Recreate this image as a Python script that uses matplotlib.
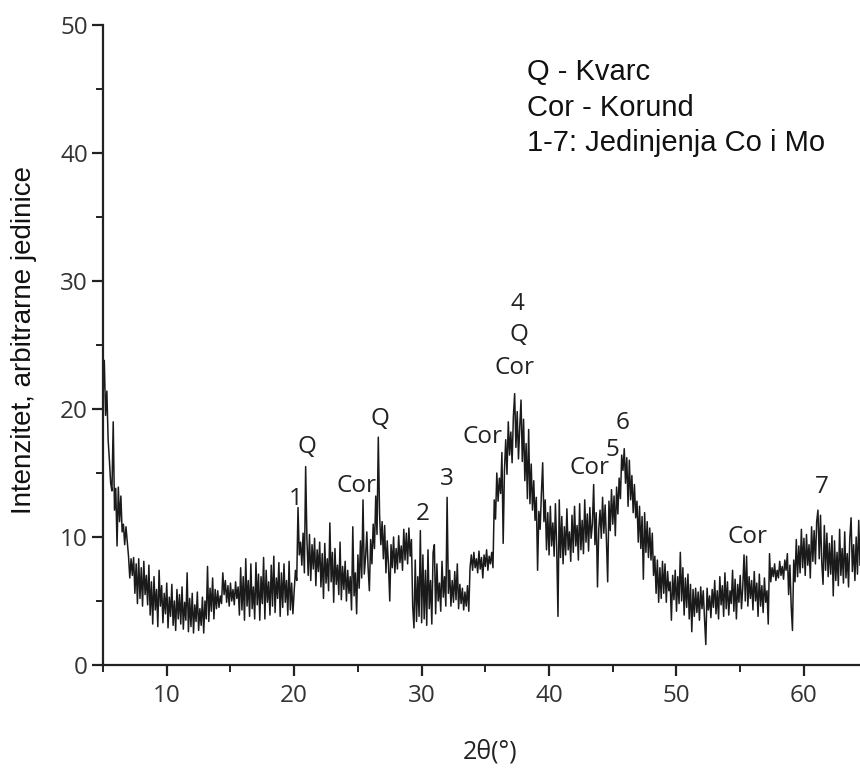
import numpy as np
import matplotlib.pyplot as plt
from matplotlib.ticker import MultipleLocator

# 2theta scan grid (0.1 deg steps) and intensity
two_theta = np.round(np.arange(5.0, 64.45, 0.1), 1)

intensity = [
    21.0, 23.8, 19.5, 21.4, 17.6, 16.0, 14.2, 13.6, 19.0, 12.1,   # 5
    13.8, 9.3, 13.9, 11.2, 13.2, 10.4, 11.0, 9.4, 10.8, 9.6,      # 6
    8.5, 6.8, 8.3, 7.0, 8.4, 5.6, 7.9, 4.8, 8.3, 5.2,             # 7
    7.6, 4.6, 8.1, 5.5, 7.0, 4.7, 7.8, 3.9, 6.5, 3.2,             # 8
    6.9, 4.3, 5.9, 3.0, 7.4, 4.6, 6.2, 3.3, 5.6, 4.0,             # 9
    6.4, 2.9, 5.3, 3.8, 6.3, 3.1, 5.0, 2.7, 5.9, 3.6,             # 10
    5.5, 3.2, 6.1, 2.8, 4.9, 3.5, 7.2, 2.6, 5.2, 3.0,             # 11
    5.6, 2.5, 4.7, 3.4, 5.7, 2.7, 4.4, 3.1, 5.3, 2.5,             # 12
    5.0, 3.6, 7.7, 3.4, 6.0, 4.2, 6.8, 3.6, 5.9, 4.4,             # 13
    5.8, 4.5, 5.4, 4.8, 7.2, 5.5, 6.6, 4.9, 6.2, 4.6,             # 14
    6.4, 5.0, 5.9, 4.7, 6.5, 5.2, 6.1, 3.9, 7.6, 4.3,             # 15
    6.9, 3.5, 8.3, 4.6, 6.6, 3.8, 7.9, 4.4, 6.1, 3.6,             # 16
    8.0, 4.7, 7.1, 3.5, 6.9, 4.8, 8.4, 3.6, 7.4, 4.9,             # 17
    6.5, 3.9, 7.8, 4.6, 8.5, 4.1, 6.8, 5.2, 8.0, 3.8,             # 18
    7.2, 4.5, 7.9, 4.9, 6.6, 3.9, 8.1, 4.3, 6.4, 4.0,             # 19
    5.8, 7.4, 6.6, 12.3, 8.6, 9.6, 7.8, 10.3, 7.2, 15.5,          # 20
    9.8, 7.0, 10.2, 6.6, 9.4, 7.5, 9.9, 6.2, 9.0, 7.3,            # 21
    9.6, 6.1, 8.7, 5.2, 9.5, 6.4, 8.3, 5.8, 11.1, 6.5,            # 22
    8.8, 4.9, 9.1, 6.3, 7.8, 5.5, 9.6, 5.1, 7.7, 5.9,             # 23
    8.1, 5.0, 7.4, 5.6, 6.9, 4.3, 10.8, 5.4, 7.2, 4.0,            # 24
    8.6, 6.0, 9.7, 6.8, 12.9, 7.1, 8.4, 10.4, 7.6, 5.8,           # 25
    9.8, 7.9, 11.0, 9.1, 13.2, 10.2, 17.8, 11.8, 9.4, 11.2,       # 26
    8.3, 10.9, 7.2, 9.7, 7.8, 5.0, 9.4, 7.6, 10.0, 7.2,           # 27
    9.1, 7.5, 10.1, 8.0, 9.3, 7.4, 10.6, 8.2, 10.3, 7.9,          # 28
    10.7, 8.5, 9.8, 4.6, 2.9, 8.2, 3.4, 6.9, 3.8, 10.5,           # 29
    3.3, 8.6, 3.6, 7.4, 3.1, 9.0, 4.4, 6.6, 3.2, 8.8,             # 30
    9.4, 4.0, 7.9, 5.0, 6.4, 4.2, 8.1, 5.3, 6.9, 4.6,             # 31
    13.1, 5.6, 7.4, 4.6, 6.6, 4.9, 7.3, 5.1, 7.9, 4.4,            # 32
    6.3, 4.8, 6.0, 4.3, 5.7, 4.6, 6.2, 4.2, 7.6, 8.6,             # 33
    7.4, 8.8, 7.6, 8.3, 7.2, 8.9, 7.5, 8.4, 6.8, 8.6,             # 34
    7.7, 9.0, 7.4, 8.5, 7.9, 8.8, 7.6, 12.9, 11.4, 15.0,          # 35
    12.8, 14.6, 13.4, 16.6, 9.5, 15.2, 17.6, 14.9, 19.0, 16.4,    # 36
    18.2, 15.8, 19.4, 21.2, 17.0, 19.8, 16.1, 18.6, 20.7, 15.9,   # 37
    19.2, 14.4, 17.3, 13.0, 18.4, 12.6, 15.7, 12.1, 14.4, 11.3,   # 38
    13.1, 7.4, 12.0, 10.6, 13.4, 15.8, 11.2, 12.9, 9.0, 11.9,     # 39
    8.6, 12.4, 9.3, 11.1, 8.5, 12.6, 9.2, 3.8, 12.9, 8.4,         # 40
    11.6, 7.9, 10.8, 8.6, 12.2, 9.0, 10.4, 8.1, 11.7, 8.8,        # 41
    12.4, 9.3, 10.9, 8.2, 12.6, 9.0, 11.3, 8.7, 12.9, 9.6,        # 42
    11.8, 8.9, 12.3, 9.9, 11.0, 14.1, 9.4, 11.9, 6.1, 10.6,       # 43
    12.1, 9.9, 13.1, 10.3, 12.5, 9.8, 6.5, 12.8, 10.5, 13.7,      # 44
    11.0, 13.2, 10.1, 13.9, 11.8, 14.6, 13.0, 16.4, 15.2, 16.9,   # 45
    14.2, 16.2, 12.4, 16.0, 12.9, 14.8, 11.9, 14.1, 11.5, 12.8,   # 46
    9.6, 12.4, 9.1, 11.6, 6.7, 11.9, 8.8, 11.2, 8.4, 10.7,        # 47
    8.2, 10.3, 7.0, 8.5, 5.6, 8.2, 4.9, 7.6, 5.2, 8.1,            # 48
    5.6, 7.9, 4.9, 7.3, 5.8, 6.5, 3.5, 7.0, 5.1, 7.4,             # 49
    4.2, 6.9, 4.8, 8.8, 5.0, 7.6, 3.9, 6.8, 4.5, 7.1,             # 50
    3.6, 6.3, 2.6, 5.9, 3.8, 6.0, 4.1, 5.7, 3.5, 6.1,             # 51
    4.4, 5.8, 3.6, 1.6, 6.0, 4.3, 5.4, 3.7, 5.9, 4.5,             # 52
    6.6, 4.0, 5.8, 3.6, 6.9, 4.7, 6.2, 3.8, 7.2, 4.4,             # 53
    6.5, 3.9, 5.8, 4.8, 7.4, 4.2, 6.7, 3.6, 6.3, 4.9,             # 54
    7.0, 4.4, 6.1, 8.6, 5.0, 8.5, 4.6, 6.9, 5.2, 6.6,             # 55
    4.3, 7.3, 5.0, 6.4, 3.8, 7.1, 4.6, 6.2, 4.1, 6.8,             # 56
    4.9, 5.8, 3.2, 8.7, 6.5, 7.6, 6.9, 7.9, 6.6, 7.4,             # 57
    6.8, 8.1, 7.0, 7.7, 6.7, 8.2, 7.4, 8.7, 5.5, 7.8,             # 58
    4.6, 2.7, 8.2, 6.5, 9.8, 6.9, 9.3, 7.2, 10.6, 7.6,            # 59
    9.9, 7.0, 10.2, 7.8, 9.4, 6.8, 10.8, 8.1, 10.5, 7.9,          # 60
    11.2, 12.1, 8.3, 11.7, 8.0, 6.3, 10.9, 7.4, 10.3, 6.9,        # 61
    9.5, 7.1, 10.1, 5.4, 9.7, 6.6, 8.8, 6.2, 10.6, 7.0,           # 62
    9.1, 6.4, 10.4, 6.8, 8.7, 6.1, 9.9, 11.5, 7.3, 9.4,           # 63
    6.6, 10.0, 7.1, 11.3, 7.8,                                    # 64
]

# phase labels: text, 2theta, intensity
peak_labels = ["Q", "1", "Cor", "Q", "2", "3", "Cor", "4", "Q", "Cor",
               "Cor", "5", "6", "Cor", "7"]
label_x = [21.0, 20.15, 24.9, 26.75, 30.05, 31.95, 34.75, 37.55, 37.6, 37.3,
           43.2, 45.0, 45.75, 55.6, 61.4]
label_y = [17.0, 12.95, 14.0, 19.2, 11.8, 14.5, 17.8, 28.2, 25.8, 23.2,
           15.4, 16.8, 18.9, 10.0, 13.9]

legend_lines = ["Q - Kvarc", "Cor - Korund", "1-7: Jedinjenja Co i Mo"]

fig = plt.figure(figsize=(8.6, 7.72), dpi=100)
ax = fig.add_axes([0.1198, 0.1386, 0.8802, 0.829])

ax.plot(two_theta, intensity, color="#1a1a1a", lw=1.1)

ax.set_xlim(5, 64.4)
ax.set_ylim(0, 50)
ax.xaxis.set_major_locator(MultipleLocator(10))
ax.xaxis.set_minor_locator(MultipleLocator(5))
ax.yaxis.set_major_locator(MultipleLocator(10))
ax.yaxis.set_minor_locator(MultipleLocator(5))
ax.set_xticks([10, 20, 30, 40, 50, 60])

for s in ["top", "right"]:
    ax.spines[s].set_visible(False)
for s in ["left", "bottom"]:
    ax.spines[s].set_linewidth(1.6)
    ax.spines[s].set_color("#222222")

ax.tick_params(which="major", length=8, width=1.6, color="#222222",
               labelsize=17.5, labelcolor="#333333")
ax.tick_params(which="minor", length=5, width=1.4, color="#222222")
ax.tick_params(axis="x", which="major", pad=6)
ax.tick_params(axis="y", which="major", pad=3)
for t in ax.get_xticklabels() + ax.get_yticklabels():
    t.set_family("Open Sans")

for txt, lx, ly in zip(peak_labels, label_x, label_y):
    ax.text(lx, ly, txt, ha="center", va="center", fontsize=17.5,
            family="Open Sans", color="#222222")

for i, line in enumerate(legend_lines):
    fig.text(527 / 860, 1 - (72 + 35.5 * i) / 772, line, ha="left", va="center",
             fontsize=21, family="Liberation Sans", color="#111111")

fig.text(24 / 860, 1 - 340 / 772, "Intenzitet, arbitrarne jedinice", rotation=90,
         ha="center", va="center", fontsize=20, family="Liberation Sans",
         color="#111111")
fig.text(490 / 860, 1 - 752 / 772, "2θ(°)", ha="center", va="center",
         fontsize=18, family="Open Sans", color="#222222")

fig.savefig("out.png", dpi=100, facecolor="white")
